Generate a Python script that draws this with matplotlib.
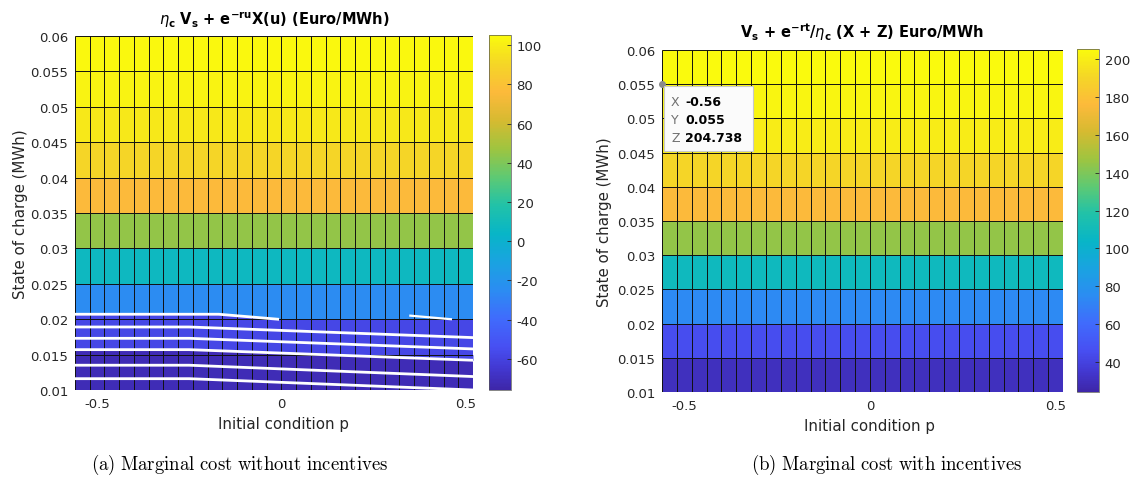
import numpy as np
import matplotlib
matplotlib.use('Agg')
import matplotlib.pyplot as plt
from matplotlib.colors import LinearSegmentedColormap
from matplotlib.patches import Rectangle

W, H = 1136, 485

# grid of the surface (initial condition p, state of charge)
p_grid = [-0.56, -0.52, -0.48, -0.44, -0.40, -0.36, -0.32, -0.28, -0.24, -0.20,
          -0.16, -0.12, -0.08, -0.04, 0.00, 0.04, 0.08, 0.12, 0.16, 0.20,
          0.24, 0.28, 0.32, 0.36, 0.40, 0.44, 0.48, 0.52]
soc_grid = [0.01, 0.015, 0.02, 0.025, 0.03, 0.035, 0.04, 0.045, 0.05, 0.055, 0.06]

# face value of each soc row (bottom -> top), Euro/MWh
cost_no_incentive = [-72, -58, -25, 7, 45, 76, 90, 98, 102, 104]
cost_incentive = [30, 45, 74, 108, 145, 176, 190, 199, 203, 204.7]
clim_no = (-75.8, 105.1)
clim_inc = (24.2, 205.3)
cbar_ticks_no = [-60, -40, -20, 0, 20, 40, 60, 80, 100]
cbar_ticks_inc = [40, 60, 80, 100, 120, 140, 160, 180, 200]

# white rendering gaps in panel (a)
stripe_p = [-0.56, -0.25, 0.52]
stripes_soc = [[0.0189, 0.0189, 0.0174],
               [0.0173, 0.0173, 0.0158],
               [0.0157, 0.0157, 0.0142],
               [0.0135, 0.0135, 0.0119],
               [0.0116, 0.0116, 0.0100]]
edge_p = [-0.56, -0.17, -0.01]
edge_soc = [0.0207, 0.0207, 0.0200]
notch_p = [0.35, 0.46]
notch_soc = [0.0205, 0.0200]

# data tip on panel (b)
tip_p, tip_soc, tip_z = -0.56, 0.055, 204.738

# parula-like colormap, matched to the rendered colorbars
cmap_pos = [0.00, 0.06, 0.12, 0.20, 0.28, 0.36, 0.44, 0.52, 0.60, 0.68, 0.76, 0.84, 0.92, 1.00]
cmap_rgb = [(0.24, 0.15, 0.66), (0.26, 0.22, 0.82), (0.28, 0.31, 0.95), (0.25, 0.42, 0.99),
            (0.17, 0.55, 0.95), (0.10, 0.64, 0.88), (0.03, 0.71, 0.78), (0.13, 0.76, 0.66),
            (0.37, 0.79, 0.45), (0.62, 0.77, 0.25), (0.84, 0.73, 0.19), (0.99, 0.73, 0.23),
            (0.96, 0.84, 0.15), (0.98, 0.98, 0.05)]
parula = LinearSegmentedColormap.from_list('parula', list(zip(cmap_pos, cmap_rgb)))

plt.rcParams['axes.unicode_minus'] = False
plt.rcParams['font.family'] = 'DejaVu Sans'
TXT = '#262626'


def rect(l, t, w, h):
    return [l / W, 1 - (t + h) / H, w / W, h / H]


def draw_panel(ax, cax, values, clim, ticks):
    C = np.repeat(np.array(values, dtype=float)[:, None], len(p_grid) - 1, axis=1)
    mesh = ax.pcolormesh(p_grid, soc_grid, C, cmap=parula, vmin=clim[0], vmax=clim[1],
                         shading='flat', zorder=1)
    ax.vlines(p_grid, soc_grid[0], soc_grid[-1], colors='#111111', lw=0.7, zorder=3)
    ax.hlines(soc_grid, p_grid[0], p_grid[-1], colors='#111111', lw=0.7, zorder=3)
    ax.set_xlim(p_grid[0], p_grid[-1])
    ax.set_ylim(soc_grid[0], soc_grid[-1])
    ax.set_xticks([-0.5, 0, 0.5])
    ax.set_xticklabels(['-0.5', '0', '0.5'])
    ax.set_yticks(soc_grid)
    ax.set_yticklabels(['%g' % v for v in soc_grid])
    ax.tick_params(length=0, pad=5, labelsize=9.5, colors=TXT)
    for s in ax.spines.values():
        s.set_visible(False)
    cb = ax.figure.colorbar(mesh, cax=cax, ticks=ticks)
    cax.tick_params(direction='in', length=3, width=0.6, labelsize=9.5, colors=TXT, pad=4)
    cb.outline.set_linewidth(0.5)
    cb.outline.set_edgecolor('#555555')
    return mesh


fig = plt.figure(figsize=(W / 100, H / 100), dpi=100)

ax1 = fig.add_axes(rect(75, 37, 398, 354))
cax1 = fig.add_axes(rect(489, 36, 22, 355))
ax2 = fig.add_axes(rect(662, 51, 401, 342))
cax2 = fig.add_axes(rect(1077, 50, 22, 343))

m1 = draw_panel(ax1, cax1, cost_no_incentive, clim_no, cbar_ticks_no)
m2 = draw_panel(ax2, cax2, cost_incentive, clim_inc, cbar_ticks_inc)

# panel (a): slanted lower band and white gaps
violet = m1.cmap(m1.norm(cost_no_incentive[1]))
dark = m1.cmap(m1.norm(cost_no_incentive[0]))
ax1.fill_between(edge_p, soc_grid[2], edge_soc, color=violet, lw=0, zorder=2)
band = np.array(stripes_soc[2])
ax1.fill_between(stripe_p, band, soc_grid[1], where=band >= soc_grid[1],
                 interpolate=True, color=dark, lw=0, zorder=2)
ax1.fill_between(stripe_p, band, soc_grid[1], where=band <= soc_grid[1],
                 interpolate=True, color=violet, lw=0, zorder=2)
for ys in stripes_soc:
    ax1.plot(stripe_p, ys, color='white', lw=2.0, zorder=4)
ax1.plot(edge_p, edge_soc, color='white', lw=2.0, zorder=4)
ax1.plot(notch_p, notch_soc, color='white', lw=1.6, zorder=4)

# titles
fig.text(274 / W, 1 - 25 / H,
         r'$\eta_{\mathbf{c}}\ \mathbf{V}_{\mathbf{s}}$ + e$^{\mathbf{-ru}}$X(u) (Euro/MWh)',
         ha='center', va='baseline', fontsize=10.5, fontweight='bold', color='black')
fig.text(862 / W, 1 - 38 / H,
         r'$\mathbf{V}_{\mathbf{s}}$ + e$^{\mathbf{-rt}}$/$\eta_{\mathbf{c}}$ (X + Z) Euro/MWh',
         ha='center', va='baseline', fontsize=10.5, fontweight='bold', color='black')

# axis labels
for cx, cy in [(21, 214), (605, 222)]:
    fig.text(cx / W, 1 - cy / H, 'State of charge (MWh)', rotation=90,
             ha='center', va='center', fontsize=10.8, color=TXT)
for cx, cy in [(283, 425), (870, 427)]:
    fig.text(cx / W, 1 - cy / H, 'Initial condition p', ha='center', va='center',
             fontsize=10.8, color=TXT)

# data tip
ax2.plot([tip_p], [tip_soc], 'o', ms=4, color='#8a8a8a', clip_on=False, zorder=5)
fig.patches.append(Rectangle((664 / W, 1 - 152 / H), 89 / W, 65 / H,
                             transform=fig.transFigure, facecolor='#fbfbfb',
                             edgecolor='#c8c8c8', lw=0.8, zorder=5))
for lab, val, y in [('X', '%g' % tip_p, 103), ('Y', '%g' % tip_soc, 120),
                    ('Z', '%.3f' % tip_z, 138)]:
    fig.text(671 / W, 1 - y / H, lab, ha='left', va='center', fontsize=9,
             color='#707070', zorder=6)
    fig.text(685 / W, 1 - y / H, val, ha='left', va='center', fontsize=9,
             fontweight='bold', color='black', zorder=6)

# captions
for cx, cap in [(240, r'$\mathrm{(a)\ Marginal\ cost\ without\ incentives}$'),
                (887, r'$\mathrm{(b)\ Marginal\ cost\ with\ incentives}$')]:
    fig.text(cx / W, 1 - 465 / H, cap, ha='center', va='center', fontsize=13.5,
             math_fontfamily='cm', color='black')

fig.savefig('out.png', dpi=100)
